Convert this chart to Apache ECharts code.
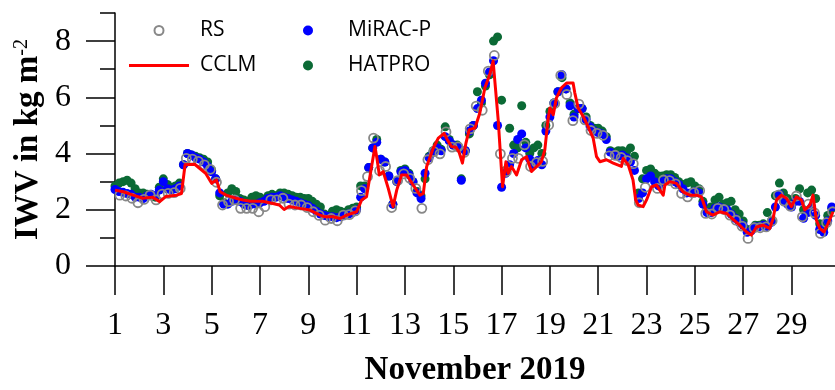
<!DOCTYPE html>
<html>
<head>
<meta charset="utf-8">
<script src="https://cdn.jsdelivr.net/npm/echarts@6/dist/echarts.min.js"></script>
<style>
  html, body { margin: 0; padding: 0; background: #fff; }
  #chart { width: 835px; height: 390px; }
</style>
</head>
<body>
<div id="chart"></div>
<script>
// axis ticks (day of November 2019)
const dayTicks = [1, 3, 5, 7, 9, 11, 13, 15, 17, 19, 21, 23, 25, 27, 29];
const iwvMajor = [0, 2, 4, 6, 8];
const iwvMinor = [1, 3, 5, 7, 9];

// RS: radiosondes every 6 h, first launch at day 1.2
const rsStart = 1.2;
const rsStep = 0.25;
const rsIwv = [
  2.52, 2.49, 2.41, 2.25,  2.37, 2.52, 2.35, 2.56,  2.58, 2.61, 2.76, 3.83,
  3.80, 3.72, 3.60, 3.44,  2.98, 2.17, 2.29, 2.35,  2.05, 2.05, 2.05, 1.93,
  2.11, 2.35, 2.35, 2.41,  2.20, 2.17, 2.17, 2.08,  1.93, 1.80, 1.63, 1.69,
  1.61, 1.81, 1.83, 1.96,  2.68, 3.18, 4.55, 3.39,  3.54, 2.08, 3.04, 3.28,
  3.12, 2.76, 2.05, 3.78,  4.07, 3.99, 4.77, 4.23,  4.24, 4.04, 4.88, 5.69,
  5.54, 6.93, 7.49, 3.99,  3.36, 3.83, 3.83, 4.31,  3.54, 3.68, 3.72, 5.02,
  5.78, 6.78, 6.10, 5.17,  5.76, 5.20, 4.82, 4.72,  4.65, 3.92, 3.94, 3.86,
  3.75, 3.64, 2.25, 2.80,  null, 2.76, 3.06, 3.04,  2.92, 2.58, 2.46, 2.61,
  2.68, 1.87, 1.85, 2.05,  2.01, 1.81, 1.63, 1.42,  0.98, 1.36, 1.36, 1.39,
  1.61, 2.52, 2.31, 2.13,  2.49, 1.75, 2.20, 1.89,  1.16, 1.54, 1.93
];

// CCLM model line, vertices
const cclmDays = [
  1.0, 1.35, 1.75, 2.15, 2.55, 2.85, 3.1, 3.55, 3.75, 3.9, 4.3, 4.75, 5.0, 5.2, 5.35, 5.6,
  6.0, 6.3, 6.6, 7.1, 7.4, 7.8, 8.0, 8.2, 8.65, 9.07, 9.48, 9.69, 10.03, 10.31, 10.59,
  11.0, 11.21, 11.41, 11.62, 11.76, 11.85, 11.94, 12.1, 12.31, 12.51, 12.66, 12.86, 13.07,
  13.34, 13.62, 13.76, 13.9, 14.17, 14.38, 14.45, 14.62, 14.78, 14.93, 15.12, 15.24, 15.38,
  15.52, 15.66, 15.9, 16.1, 16.31, 16.51, 16.65, 16.72, 16.86, 17.04, 17.18, 17.27, 17.41,
  17.62, 17.83, 18.03, 18.24, 18.45, 18.65, 18.79, 18.93, 19.0, 19.14, 19.27, 19.48, 19.69,
  19.96, 20.03, 20.17, 20.38, 20.58, 20.79, 20.93, 21.07, 21.34, 21.62, 21.96, 22.03, 22.24,
  22.44, 22.55, 22.65, 22.86, 23.0, 23.21, 23.41, 23.55, 23.69, 23.76, 23.96, 24.24, 24.51,
  24.79, 25.07, 25.27, 25.48, 25.75, 26.03, 26.31, 26.58, 26.86, 27.14, 27.34, 27.55, 27.82,
  28.1, 28.24, 28.38, 28.58, 28.79, 29.0, 29.2, 29.41, 29.55, 29.76, 29.89, 30.03, 30.17,
  30.34, 30.51, 30.72
];
const cclmIwv = [
  2.70, 2.64, 2.52, 2.41, 2.45, 2.29, 2.47, 2.52, 2.58, 3.60, 3.62, 3.30, 2.94, 3.06, 2.64, 2.52,
  2.41, 2.35, 2.30, 2.30, 2.25, 2.17, 2.01, 2.12, 2.05, 1.99, 1.81, 1.75, 1.75, 1.69, 1.81,
  1.93, 2.35, 2.46, 3.54, 4.25, 3.78, 3.24, 3.36, 2.76, 2.11, 2.70, 3.24, 3.24,
  2.88, 2.52, 2.58, 3.54, 4.19, 4.55, 4.60, 4.72, 4.45, 4.25, 4.22, 4.05, 3.66,
  4.35, 4.85, 4.91, 5.44, 6.34, 6.81, 7.29, 7.23, 5.20, 2.82, 3.71, 3.30, 3.54,
  3.24, 3.78, 3.89, 3.36, 3.54, 3.71, 4.13, 5.26, 5.62, 5.38, 5.98, 6.34, 6.51,
  6.51, 6.16, 5.62, 5.32, 4.96, 4.55, 3.89, 3.71, 3.78, 3.66, 3.54, 3.83, 3.60,
  3.06, 2.35, 2.17, 2.11, 2.35, 2.82, 2.88, 2.70, 2.52, 2.88, 3.00, 2.94, 2.64,
  2.52, 2.52, 2.46, 1.93, 1.81, 1.93, 1.87, 1.66, 1.45, 1.21, 1.10, 1.39, 1.45,
  1.34, 1.69, 2.35, 2.52, 2.41, 2.11, 2.46, 2.35, 1.99, 2.17, 2.52, 1.63, 1.34,
  1.21, 1.51, 1.93
];

// radiometers, one value every 4 h from day 1.0
const mwrStart = 1.0;
const mwrStep = 1 / 6;
const miracIwv = [
  2.72, 2.65, 2.62, 2.58, 2.55, 2.45,  2.45, 2.40, 2.50, 2.55, 2.50, 2.70,
  3.00, 2.75, 2.70, 2.75, 2.85, 3.60,  4.00, 3.95, 3.85, 3.80, 3.70, 3.55,
  3.35, 3.10, 2.60, 2.20, 2.20, 2.30,  2.35, 2.30, 2.20, 2.15, 2.20, 2.20,
  2.25, 2.30, 2.40, 2.45, 2.45, 2.50,  2.45, 2.40, 2.35, 2.30, 2.25, 2.20,
  2.15, 2.05, 1.95, 1.85, 1.80, 1.75,  1.75, 1.72, 1.75, 1.80, 1.85, 1.90,
  2.00, 2.45, 2.75, 3.50, 4.20, 4.40,  3.80, 3.70, 3.20, 2.20, 3.00, 3.35,
  3.40, 3.25, 3.00, 2.60, 2.40, 3.30,  3.85, 4.05, 4.20, 4.10, 4.60, 4.45,
  4.30, 4.25, 3.05, 4.10, 4.80, 5.00,  5.60, 5.90, 6.50, 6.90, 7.30, 5.00,
  2.80, 3.30, 3.60, 4.00, 4.50, 4.70,  4.20, 3.80, 3.60, 3.75, 3.60, 4.80,
  5.30, 5.80, 6.20, 6.80, 6.30, 5.70,  5.30, 5.60, 5.60, 5.20, 4.95, 4.80,
  4.75, 4.70, 4.50, 4.05, 3.95, 3.90,  3.95, 3.85, 3.70, 3.40, 2.40, 2.60,
  3.10, 3.20, 3.00, 2.85, 3.00, 3.10,  3.10, 3.00, 2.90, 2.75, 2.60, 2.60,
  2.65, 2.60, 2.20, 1.90, 1.90, 2.05,  2.10, 2.05, 2.00, 1.85, 1.70, 1.55,
  1.45, 1.20, 1.25, 1.40, 1.40, 1.45,  1.40, 1.55, 2.10, 2.55, 2.30, 2.20,
  2.10, 2.30, 2.30, 1.70, 1.90, 2.10,  1.80, 1.30, 1.20, 1.60, 2.10
];
const hatproIwv = [
  2.85, 2.95, 3.00, 3.05, 2.95, 2.75,  2.60, 2.60, 2.55, 2.50, 2.45, 2.80,
  3.10, 2.90, 2.80, 2.85, 2.95, 3.60,  4.00, 3.95, 3.90, 3.85, 3.80, 3.70,
  3.40, 3.10, 2.50, 2.25, 2.60, 2.75,  2.65, 2.40, 2.35, 2.30, 2.45, 2.50,
  2.45, 2.35, 2.50, 2.55, 2.50, 2.60,  2.60, 2.55, 2.50, 2.45, 2.45, 2.40,
  2.40, 2.30, 2.20, 2.10, 1.85, 1.80,  1.95, 2.00, 1.95, 1.90, 2.00, 2.05,
  2.10, 2.85, 2.85, 3.50, 4.20, 4.50,  3.80, 3.70, 3.20, 2.20, 3.00, 3.40,
  3.45, 3.30, 3.00, 2.65, 2.50, 3.10,  3.90, 4.10, 4.30, 4.15, 4.95, 4.50,
  4.30, 4.30, 3.10, 4.10, 4.70, 5.00,  6.20, 5.80, 6.40, 6.80, 8.00, 8.15,
  5.90, 3.40, 4.90, 4.30, 4.20, 5.70,  4.40, 4.00, 4.20, 4.30, 4.00, 5.00,
  5.50, 5.80, 6.20, 6.70, 6.30, 5.80,  5.40, 5.60, 5.60, 5.30, 5.00, 4.90,
  4.90, 4.80, 4.60, 4.10, 4.05, 4.10,  4.10, 4.05, 4.20, 3.90, 2.60, 3.10,
  3.40, 3.45, 3.30, 3.20, 3.20, 3.25,  3.25, 3.15, 3.00, 2.90, 2.95, 3.00,
  2.85, 2.75, 2.30, 2.00, 2.10, 2.35,  2.45, 2.20, 2.25, 2.30, 2.00, 1.85,
  1.60, 1.30, 1.30, 1.45, 1.45, 1.50,  1.90, 1.60, 2.50, 2.95, 2.60, 2.40,
  2.20, 2.40, 2.75, 2.00, 2.60, 2.70,  2.40, 1.50, 1.35, 1.80, 2.05
];

const serif = 'Liberation Serif';
const toPairs = (start, step, vals) => vals.map((v, i) => [start + i * step, v]);

const chart = echarts.init(document.getElementById('chart'));
chart.setOption({
  animation: false,
  backgroundColor: '#fff',
  grid: { left: 115, right: 0, top: 13, bottom: 124, outerBoundsMode: 'none' },
  legend: [
    {
      // a flat bar stands in for the line sample
      data: ['RS', { name: 'CCLM', icon: 'path://M0,0H60V3H0Z' }],
      orient: 'vertical',
      left: 124,
      top: 15,
      padding: 5,
      itemWidth: 60,
      itemHeight: 9,
      itemGap: 14,
      selectedMode: false,
      textStyle: { fontFamily: 'Open Sans', fontSize: 21, color: '#000', padding: [0, 0, 0, 6] }
    },
    {
      data: ['MiRAC-P', 'HATPRO'],
      orient: 'vertical',
      left: 298,
      top: 15,
      padding: 5,
      itemWidth: 70,
      itemHeight: 10,
      itemGap: 14,
      selectedMode: false,
      textStyle: { fontFamily: 'Open Sans', fontSize: 21, color: '#000' }
    }
  ],
  xAxis: {
    type: 'value',
    min: 1,
    max: 30.8,
    name: 'November 2019',
    nameLocation: 'middle',
    nameGap: 88,
    nameMoveOverlap: false,
    nameTextStyle: { fontFamily: serif, fontSize: 33, fontWeight: 'bold', color: '#000' },
    axisLine: { lineStyle: { color: '#000', width: 1.5 } },
    axisTick: { customValues: dayTicks, length: 29, lineStyle: { color: '#000', width: 1.5 } },
    axisLabel: { customValues: dayTicks, margin: 44, fontFamily: serif, fontSize: 32, color: '#000' },
    splitLine: { show: false }
  },
  yAxis: [
    {
      type: 'value',
      min: 0,
      max: 9,
      name: '{a|IWV in kg m}{s|-2}',
      nameLocation: 'middle',
      nameGap: 70,
      nameMoveOverlap: false,
      nameTextStyle: {
        rich: {
          a: { fontFamily: serif, fontSize: 33, fontWeight: 'bold', color: '#000' },
          s: { fontFamily: serif, fontSize: 20, color: '#000', verticalAlign: 'top' }
        }
      },
      axisLine: { show: true, lineStyle: { color: '#000', width: 1.5 } },
      axisTick: { customValues: iwvMajor, length: 29, lineStyle: { color: '#000', width: 1.5 } },
      axisLabel: { customValues: iwvMajor, margin: 44, fontFamily: serif, fontSize: 32, color: '#000' },
      splitLine: { show: false }
    },
    {
      type: 'value',
      min: 0,
      max: 9,
      position: 'left',
      offset: 0,
      axisLine: { show: false },
      axisTick: { show: true, customValues: iwvMinor, length: 15, lineStyle: { color: '#000', width: 1.5 } },
      axisLabel: { show: false },
      splitLine: { show: false }
    }
  ],
  series: [
    {
      name: 'HATPRO',
      type: 'scatter',
      symbol: 'circle',
      symbolSize: 9,
      itemStyle: { color: '#0b6a35', opacity: 1 },
      data: toPairs(mwrStart, mwrStep, hatproIwv)
    },
    {
      name: 'MiRAC-P',
      type: 'scatter',
      symbol: 'circle',
      symbolSize: 9,
      itemStyle: { color: '#0000ff', opacity: 1 },
      data: toPairs(mwrStart, mwrStep, miracIwv)
    },
    {
      name: 'CCLM',
      type: 'line',
      symbol: 'none',
      lineStyle: { color: '#ff0000', width: 3, join: 'round' },
      itemStyle: { color: '#ff0000' },
      data: cclmDays.map((d, i) => [d, cclmIwv[i]])
    },
    {
      name: 'RS',
      type: 'scatter',
      symbol: 'circle',
      symbolSize: 9,
      itemStyle: { color: 'rgba(255,255,255,0)', borderColor: '#888888', borderWidth: 1.8, opacity: 1 },
      data: toPairs(rsStart, rsStep, rsIwv).filter(p => p[1] !== null)
    }
  ]
});
</script>
</body>
</html>
